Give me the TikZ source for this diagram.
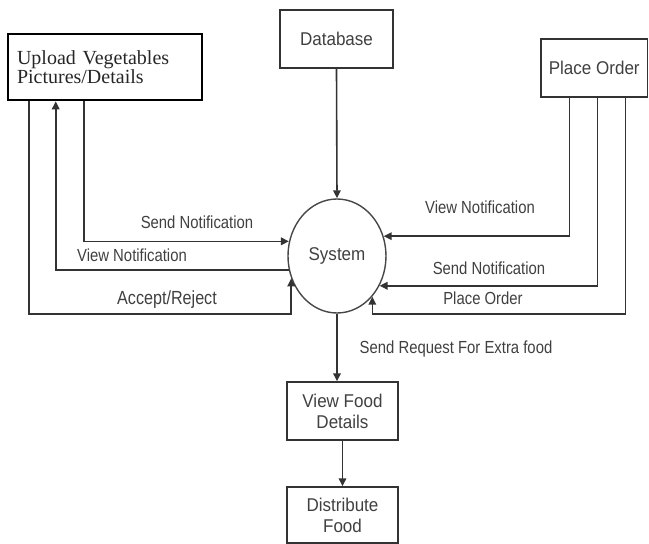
\documentclass[tikz,border=0pt]{standalone}
\usepackage{fontspec}
\setmainfont{Liberation Serif}
\newfontfamily\lblfont{Liberation Sans}[FakeStretch=0.85]
\newfontfamily\boxfont{Liberation Sans}[FakeStretch=0.92]
\usetikzlibrary{calc,arrows.meta,shapes.geometric}
\definecolor{ln}{HTML}{333333}
\definecolor{tx}{HTML}{404040}
\tikzset{
  procbox/.style={draw=ln, line width=1.4pt, rectangle, inner sep=0pt, align=center,
    text=tx, font=\boxfont\fontsize{18.5}{21}\selectfont},
  uplbox/.style={draw=black, line width=2.6pt, rectangle, inner xsep=9pt, inner ysep=0pt,
    align=left, text=black!85, font=\fontsize{20}{18}\selectfont},
  sysnode/.style={draw=ln!90, line width=1.4pt, ellipse, inner sep=0pt,
    minimum width=98pt, minimum height=114pt, text=tx, font=\boxfont\fontsize{18.5}{21}\selectfont},
  conn/.style={draw=ln, line width=1.6pt},
  arr/.style={conn, -{Triangle[length=8pt,width=7.5pt]}},
  lbl/.style={text=tx, inner sep=0pt, font=\lblfont\fontsize{17.5}{20}\selectfont},
  lblbig/.style={text=tx, inner sep=0pt, font=\lblfont\fontsize{19}{21}\selectfont}
}
\begin{document}
\begin{tikzpicture}[x=1pt,y=-1pt]
\useasboundingbox (0,0) rectangle (649,544);
% nodes
\node[uplbox, text width=176pt, minimum width=194pt, minimum height=66pt] (upl) at (105,67) {\raisebox{2pt}{\parbox{176pt}{Upload Vegetables\\Pictures/Details}}};
\node[procbox, minimum width=113pt, minimum height=58pt] (db) at (336.5,39) {Database};
\node[procbox, minimum width=106.5pt, minimum height=58pt] (po) at (594.25,68) {Place Order};
\node[sysnode] (sys) at (337,256) {System};
\node[procbox, minimum width=111pt, minimum height=58pt] (vf) at (342.5,411) {View Food\\Details};
\node[procbox, minimum width=111pt, minimum height=56pt] (df) at (342.5,515) {Distribute\\Food};
% helper coordinates
\coordinate (yacc) at (0,314);
\coordinate (u1) at ($(upl.south west)+(22,0)$);
\coordinate (u2) at ($(upl.south west)+(49,0)$);
\coordinate (u3) at ($(upl.south west)+(77,0)$);
\coordinate (p1) at ($(po.south west)+(29,0)$);
\coordinate (p2) at ($(po.south west)+(57,0)$);
\coordinate (p3) at ($(po.south west)+(85,0)$);
\coordinate (acc) at (sys.206.7 |- yacc);
\coordinate (poc) at (sys.311.3 |- yacc);
% connectors
\draw[arr] (db.south) -- (sys.north);
\draw[arr] (u3) |- (sys.163.6);
\draw[arr] (sys.196.4) -| (u2);
\draw[arr] (u1) |- (acc) -- (sys.206.7);
\draw[arr] (p1) |- (sys.23.5);
\draw[arr] (p2) |- (sys.325.5);
\draw[arr] (p3) |- (poc) -- (sys.311.3);
\draw[arr] (sys.south) -- (sys.south |- vf.north);
\draw[arr] (vf.south) -- (df.north);
% labels
\node[lbl] (l1) at (197,222) {Send Notification};
\node[lbl] (l2) at (132,255) {View Notification};
\node[lblbig] (l3) at (167,300) {Accept/Reject};
\node[lbl] (l4) at (480,207) {View Notification};
\node[lbl] (l5) at (489,268) {Send Notification};
\node[lbl] (l6) at (483,298) {Place Order};
\node[lbl] (l7) at (456,349) {Send Request For Extra food};
\end{tikzpicture}
\end{document}
